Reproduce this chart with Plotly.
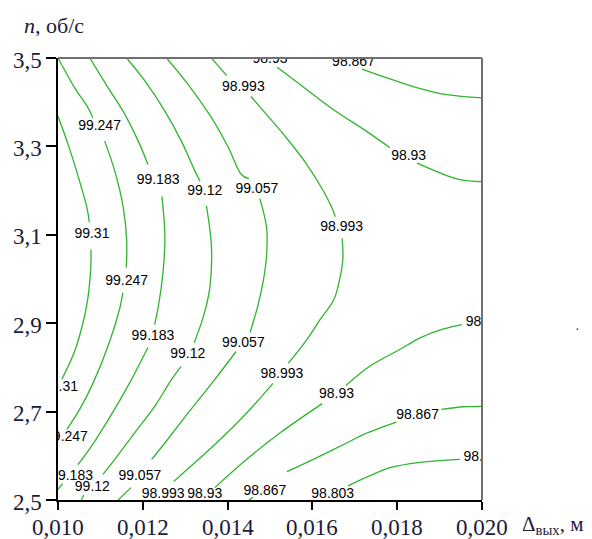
import plotly.graph_objects as go

# ---- axis ticks ----
x_ticks = [0.010, 0.012, 0.014, 0.016, 0.018, 0.020]
x_ticktext = ["0,010", "0,012", "0,014", "0,016", "0,018", "0,020"]
y_ticks = [2.5, 2.7, 2.9, 3.1, 3.3, 3.5]
y_ticktext = ["2,5", "2,7", "2,9", "3,1", "3,3", "3,5"]

N = None
# ---- contour lines (None = gap at a label) ----
c99310_x = [0.01000, 0.01024, 0.01051, 0.01068, 0.01074, N, 0.01078, 0.01077, 0.01070, 0.01058, 0.01039, 0.01009]
c99310_y = [3.368, 3.304, 3.221, 3.162, 3.128, N, 3.067, 3.022, 2.954, 2.897, 2.836, 2.773]

c99247_x = [0.01000, 0.01039, 0.01071, 0.01082, N, 0.01110, 0.01134, 0.01154, 0.01162, 0.01161, N,
            0.01153, 0.01146, 0.01122, 0.01083, 0.01051, 0.01021]
c99247_y = [3.500, 3.433, 3.387, 3.365, N, 3.312, 3.244, 3.161, 3.086, 3.026, N,
            2.969, 2.935, 2.859, 2.765, 2.705, 2.660]

c99183_x = [0.01075, 0.01118, 0.01158, 0.01193, 0.01212, N, 0.01245, 0.01252, 0.01248, 0.01236, 0.01228, N,
            0.01212, 0.01169, 0.01122, 0.01079, 0.01047, N, 0.01011, 0.01000]
c99183_y = [3.500, 3.433, 3.372, 3.304, 3.259, N, 3.187, 3.101, 3.018, 2.935, 2.897, N,
            2.845, 2.765, 2.687, 2.622, 2.580, N, 2.537, 2.524]

c99120_x = [0.01162, 0.01205, 0.01252, 0.01291, 0.01323, 0.01335, N, 0.01350, 0.01362, 0.01358, 0.01342, 0.01321, N,
            0.01290, 0.01268, 0.01228, 0.01181, 0.01134, 0.01106, N, 0.01061, 0.01055]
c99120_y = [3.500, 3.448, 3.380, 3.312, 3.244, 3.221, N, 3.166, 3.071, 2.980, 2.912, 2.856, N,
            2.802, 2.773, 2.712, 2.652, 2.592, 2.558, N, 2.512, 2.500]

c99057_x = [0.01256, 0.01307, 0.01362, 0.01402, 0.01433, 0.01450, N, 0.01476, 0.01492, 0.01492, 0.01484, 0.01472, 0.01453, N,
            0.01420, 0.01370, 0.01307, 0.01252, 0.01221, N, 0.01172, 0.01142]
c99057_y = [3.500, 3.440, 3.365, 3.297, 3.236, 3.227, N, 3.182, 3.116, 3.055, 2.995, 2.942, 2.879, N,
            2.836, 2.773, 2.697, 2.629, 2.592, N, 2.528, 2.500]

c98993_x = [0.01362, 0.01398, N, 0.01455, 0.01492, 0.01539, 0.01587, 0.01626, 0.01646, 0.01654, N,
            0.01670, 0.01672, 0.01665, 0.01651, 0.01618, 0.01587, 0.01543, N,
            0.01507, 0.01445, 0.01366, 0.01287, 0.01273]
c98993_y = [3.500, 3.460, N, 3.413, 3.372, 3.319, 3.259, 3.199, 3.161, 3.141, N,
            3.092, 3.048, 3.003, 2.954, 2.908, 2.863, 2.809, N,
            2.764, 2.697, 2.622, 2.554, 2.542]

c98930_top_x = [0.01517, 0.01571, 0.01650, 0.01728, 0.01783, N, 0.01847, 0.01901, 0.01948, 0.02000]
c98930_top_y = [3.479, 3.440, 3.383, 3.334, 3.297, N, 3.262, 3.240, 3.225, 3.220]

c98930_low_x = [0.01370, 0.01445, 0.01524, 0.01623, N, 0.01679, 0.01736, 0.01807, 0.01854, 0.01909, 0.01953]
c98930_low_y = [2.528, 2.592, 2.652, 2.718, N, 2.759, 2.803, 2.841, 2.867, 2.887, 2.897]

c98867_top_x = [0.01717, 0.01776, 0.01846, 0.01917, 0.02000]
c98867_top_y = [3.475, 3.455, 3.433, 3.417, 3.410]

c98867_low_x = [0.01450, 0.01460, N, 0.01540, 0.01602, 0.01689, 0.01720, 0.01798, N, 0.01904, 0.01957, 0.02000]
c98867_low_y = [2.500, 2.506, N, 2.564, 2.592, 2.633, 2.648, 2.676, N, 2.705, 2.711, 2.712]

c98803_x = [0.01684, 0.01736, 0.01783, 0.01854, 0.01948]
c98803_y = [2.532, 2.555, 2.573, 2.585, 2.592]

# ---- contour labels ----
label_text = ["99.31", "99.31",
              "99.247", "99.247", "99.247",
              "99.183", "99.183", "99.183",
              "99.12", "99.12", "99.12",
              "99.057", "99.057", "99.057",
              "98.993", "98.993", "98.993", "98.993",
              "98.93", "98.93", "98.93", "98.93", "98.93",
              "98.867", "98.867", "98.867",
              "98.803", "98.803"]
label_x = [0.01080, 0.01006,
           0.01098, 0.01162, 0.01020,
           0.01236, 0.01224, 0.01032,
           0.01346, 0.01306, 0.01081,
           0.01469, 0.01437, 0.01193,
           0.01437, 0.01669, 0.01528, 0.01248,
           0.01500, 0.01827, 0.01657, 0.02003, 0.01346,
           0.01697, 0.01848, 0.01488,
           0.01648, 0.02007]
label_y = [3.101, 2.755,
           3.346, 2.995, 2.641,
           3.223, 2.871, 2.554,
           3.197, 2.829, 2.528,
           3.202, 2.854, 2.554,
           3.434, 3.116, 2.784, 2.512,
           3.497, 3.278, 2.739, 2.901, 2.512,
           3.490, 2.691, 2.519,
           2.512, 2.596]

GREEN = "#2fb52f"
TICK_COLOR = "#1b1b3a"
TICK_FONT = dict(family="Liberation Serif", size=23, color=TICK_COLOR)

fig = go.Figure()
for xs, ys in [(c99310_x, c99310_y), (c99247_x, c99247_y), (c99183_x, c99183_y),
               (c99120_x, c99120_y), (c99057_x, c99057_y), (c98993_x, c98993_y),
               (c98930_top_x, c98930_top_y), (c98930_low_x, c98930_low_y),
               (c98867_top_x, c98867_top_y), (c98867_low_x, c98867_low_y),
               (c98803_x, c98803_y)]:
    fig.add_trace(go.Scatter(x=xs, y=ys, mode="lines", connectgaps=False,
                             line=dict(color=GREEN, width=1.3, shape="spline"),
                             hoverinfo="skip", showlegend=False))

fig.add_trace(go.Scatter(x=label_x, y=label_y, text=label_text, mode="text",
                         textposition="middle center", cliponaxis=True,
                         textfont=dict(family="Liberation Sans", size=14, color="black"),
                         hoverinfo="skip", showlegend=False))

axis_common = dict(showgrid=False, zeroline=False, showline=True, linecolor="black", linewidth=2,
                   ticks="outside", tickwidth=2, tickcolor="black", tickmode="array",
                   showticklabels=False, automargin=False)

annotations = []
# tick labels placed through the axis scales
for v, t in zip(x_ticks, x_ticktext):
    annotations.append(dict(text=t, xref="x", yref="paper", x=v, y=-0.062,
                            xanchor="center", yanchor="middle", showarrow=False, font=TICK_FONT))
for v, t in zip(y_ticks, y_ticktext):
    annotations.append(dict(text=t, xref="paper", yref="y", x=-0.033, y=v, yshift=-2,
                            xanchor="right", yanchor="middle", showarrow=False, font=TICK_FONT))
annotations += [
    dict(text="<i>n</i>, об/с", xref="paper", yref="paper", x=-0.085, y=1.073,
         xanchor="left", yanchor="middle", showarrow=False,
         font=dict(family="Liberation Serif", size=22, color=TICK_COLOR)),
    dict(text="Δ<sub>вых</sub>, м", xref="paper", yref="paper", x=1.0896, y=-0.056,
         xanchor="left", yanchor="middle", showarrow=False,
         font=dict(family="Liberation Serif", size=21, color=TICK_COLOR)),
    dict(text="·", xref="paper", yref="paper", x=1.2264, y=0.390,
         xanchor="center", yanchor="middle", showarrow=False,
         font=dict(family="Liberation Sans", size=14, color="#333333")),
]

# the page body adds an 8px offset, so the figure is 8px smaller with 8px less top/left margin
fig.update_layout(
    width=584, height=531,
    margin=dict(l=50, r=110, t=50, b=39, autoexpand=False),
    paper_bgcolor="white", plot_bgcolor="white",
    xaxis=dict(range=[0.010, 0.020], tickvals=x_ticks, ticklen=8, **axis_common),
    yaxis=dict(range=[2.5, 3.5], tickvals=y_ticks, ticklen=10, **axis_common),
    shapes=[
        dict(type="line", xref="paper", yref="paper", x0=0, x1=1, y0=1, y1=1,
             line=dict(color="#707070", width=2), layer="above"),
        dict(type="line", xref="paper", yref="paper", x0=1, x1=1, y0=0, y1=1,
             line=dict(color="#707070", width=2), layer="above"),
    ],
    annotations=annotations,
)

fig.write_html("out.html")
